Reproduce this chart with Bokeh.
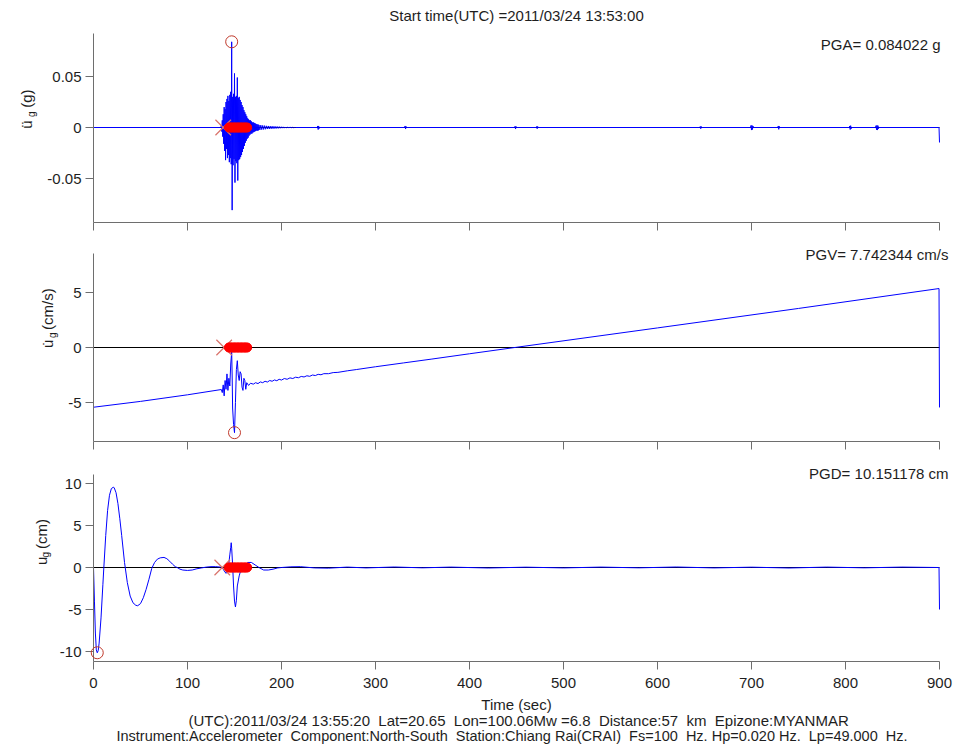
import numpy as np
from bokeh.plotting import figure
from bokeh.layouts import column, row
from bokeh.models import Label, FixedTicker
from bokeh.embed import file_html
from bokeh.resources import INLINE

FONT = "Liberation Sans"
NB = "\u00a0"

# ---------------- data ----------------
x_ticks = [0, 100, 200, 300, 400, 500, 600, 700, 800, 900]
x_tick_labels = ["0", "100", "200", "300", "400", "500", "600", "700", "800", "900"]

acc_yticks = [-0.05, 0, 0.05]
acc_ylabels = ["-0.05", "0", "0.05"]
vel_yticks = [-5, 0, 5]
vel_ylabels = ["-5", "0", "5"]
dis_yticks = [-10, -5, 0, 5, 10]
dis_ylabels = ["-10", "-5", "0", "5", "10"]

acc_ylim = (-0.0931, 0.0922)
vel_ylim = (-8.55, 8.55)
dis_ylim = (-11.19, 11.07)

title_text = "Start time(UTC) =2011/03/24 13:53:00"
xlabel_text = "Time (sec)"
footer_line1 = "(UTC):2011/03/24 13:55:20  Lat=20.65  Lon=100.06Mw =6.8  Distance:57  km  Epizone:MYANMAR"
footer_line2 = "Instrument:Accelerometer  Component:North-South  Station:Chiang Rai(CRAI)  Fs=100  Hz. Hp=0.020 Hz.  Lp=49.000  Hz."
pga_text = "PGA= 0.084022 g"
pgv_text = "PGV= 7.742344 cm/s"
pgd_text = "PGD= 10.151178 cm"

# acceleration (g)
acc_pre_t = [0.0, 135.5]
acc_pre_v = [0.0, 0.0]
acc_burst_start = 136.0
acc_burst_step = 0.5
acc_burst_v = [
    0.002, -0.004, 0.007, -0.009, 0.013, -0.016, 0.020, -0.023,
    0.018, -0.032, 0.025, -0.021, 0.028, -0.030, 0.031, -0.027,
    0.026, -0.034, 0.032, -0.030, 0.035, -0.036, 0.084, -0.081,
    0.030, -0.037, 0.033, -0.031, 0.053, -0.054, 0.030, -0.033,
    0.031, -0.035, 0.049, -0.052, 0.029, -0.032, 0.030, -0.031,
    0.027, -0.029, 0.025, -0.027, 0.022, -0.024, 0.020, -0.021,
    0.017, -0.018, 0.015, -0.015, 0.013, -0.013, 0.011, -0.011,
    0.009, -0.010, 0.008, -0.008, 0.007, -0.007, 0.007, -0.006,
    0.006, -0.006, 0.005, -0.005, 0.005, -0.0045, 0.0045, -0.004,
    0.004, -0.0035, 0.0035, -0.003, 0.003, -0.003, 0.003, -0.0028,
]
acc_tail_start = 176.0
acc_tail_step = 1.0
acc_tail_v = [
    0.0025, -0.0024, 0.0023, -0.0021, 0.002, -0.0019, 0.0018, -0.0017,
    0.0016, -0.0015, 0.0015, -0.0014, 0.0013, -0.0012, 0.0012, -0.0011,
    0.0011, -0.0010, 0.0010, -0.0009, 0.0009, -0.0008, 0.0008, -0.0007,
    0.0007, -0.0006, 0.0006, -0.0006, 0.0005, -0.0005, 0.0004, -0.0004,
    0.0004, -0.0003, 0.0003, -0.0003, 0.0002, -0.0002, 0.0, 0.0,
]
acc_blip_t = [238, 238.5, 239, 239.5, 240, 240.5,
              331, 331.5, 332, 332.5, 333,
              448, 448.5, 449, 449.5, 450,
              471, 471.5, 472, 472.5, 473,
              645, 645.5, 646, 646.5, 647,
              699, 699.5, 700, 700.5, 701, 701.5, 702,
              728, 728.5, 729, 729.5, 730,
              804, 804.5, 805, 805.5, 806, 806.5,
              832, 832.5, 833, 833.5, 834, 834.5, 835, 835.5]
acc_blip_v = [0, 0.0015, -0.002, 0.0015, -0.001, 0,
              0, 0.0015, -0.0015, 0.001, 0,
              0, 0.0012, -0.0015, 0.001, 0,
              0, 0.001, -0.0012, 0.001, 0,
              0, 0.001, -0.0012, 0.001, 0,
              0, 0.002, -0.0025, 0.002, -0.002, 0.0015, 0,
              0, 0.0015, -0.0018, 0.0012, 0,
              0, 0.0015, -0.002, 0.0018, -0.0012, 0,
              0, 0.0018, -0.0022, 0.002, -0.0025, 0.0018, -0.0012, 0]
acc_end_t = [899.5, 900.0]
acc_end_v = [0.0, -0.0147]

# velocity (cm/s)
vel_t = [0, 50, 100, 136, 137, 138, 139, 140, 141, 142, 143, 144, 145, 146, 147,
         147.5, 148, 149, 150, 151, 152, 153, 154, 155, 156, 157, 158, 159, 160,
         161, 162, 163, 165, 167, 170, 172.5, 175, 177.5, 180, 182.5, 185, 187.5,
         190, 192.5, 195, 197.5, 200, 203, 206, 209, 212, 215, 218, 221, 224, 227,
         230, 233, 236, 239, 242, 245, 250, 255, 260, 270, 280, 300, 330, 360, 400,
         450, 600, 750, 899.5, 900]
vel_v = [-5.43, -4.9, -4.3, -3.82, -4.1, -3.4, -4.4, -3.0, -3.8, -2.4, -3.9, -2.8, -3.5, -1.5, -0.4,
         -2.5, -5.5, -7.0, -7.742344, -5.0, -2.0, -1.2, -2.5, -3.0, -2.2, -2.4, -3.6, -3.9, -2.8,
         -3.0, -3.8, -3.2, -3.45, -3.25, -3.33, -3.2, -3.28, -3.13, -3.2, -3.07, -3.14, -3.0,
         -3.07, -2.95, -3.02, -2.89, -2.96, -2.82, -2.89, -2.76, -2.82, -2.7, -2.75, -2.63, -2.68, -2.57,
         -2.62, -2.5, -2.55, -2.44, -2.48, -2.38, -2.38, -2.28, -2.26, -2.12, -2.0, -1.75, -1.4, -1.05, -0.57,
         0.02, 1.78, 3.55, 5.36, -5.45]

# displacement (cm)
dis_t = [0, 1, 2, 3, 4, 5, 6, 8, 10, 11, 13, 15, 17, 19, 21, 22, 24, 26, 28, 30,
         33, 36, 39, 42, 45, 47, 50, 53, 56, 59, 62, 65, 68, 71, 75, 78, 81, 84, 87, 89,
         92, 95, 100, 105, 110, 115, 120, 125, 130, 135, 137, 139, 141, 143, 144, 145, 146,
         146.5, 147, 148, 149, 150, 151, 152, 153, 155, 157, 160, 164, 168, 172, 176, 181,
         186, 191, 196, 200, 210, 220, 235, 250, 270, 290, 320, 350, 380, 420, 460, 500,
         540, 580, 620, 660, 700, 740, 780, 820, 860, 899.5, 900]
dis_v = [0, -4.0, -7.8, -9.8, -10.151178, -9.9, -9.0, -6.0, -2.0, 0.0, 3.8, 6.8, 8.6, 9.4, 9.55, 9.5, 8.9, 7.6, 5.8, 3.8,
         0.6, -1.8, -3.4, -4.2, -4.5, -4.55, -4.3, -3.6, -2.6, -1.4, -0.1, 0.6, 1.0, 1.15, 1.2, 1.05, 0.75, 0.4, 0.1, 0.0,
         -0.2, -0.3, -0.35, -0.3, -0.15, -0.05, 0.05, 0.1, 0.1, 0.05, 0.0, -0.4, -0.7, -0.3, 0.5, 1.5, 2.4,
         2.95, 2.3, 0.3, -2.2, -4.0, -4.7, -3.9, -2.2, -1.0, -0.2, 0.2, 0.6, 0.6, 0.3, 0.0, -0.3,
         -0.3, -0.2, -0.05, 0.0, 0.08, 0.1, -0.05, -0.08, 0.05, -0.05, 0.06, -0.04, 0.05, -0.06, 0.04, -0.05,
         0.05, -0.04, 0.06, -0.05, 0.04, -0.06, 0.05, -0.04, 0.05, 0.0, -5.0]

# picks and peaks
acc_pick_t = [138]
vel_pick_t = [139]
dis_pick_t = [137]
pick_dots_t = [144, 145.5, 147, 148.5, 150, 151.5, 153, 154.5, 156, 157.5, 159, 160.5, 162, 163.5]
acc_peak = ([147.0], [0.084022])
vel_peak = ([150.0], [-7.742344])
dis_peak = ([4.0], [-10.151178])

# ---------------- assemble acceleration series ----------------
burst_t = list(acc_burst_start + acc_burst_step * np.arange(len(acc_burst_v)))
tail_t = list(acc_tail_start + acc_tail_step * np.arange(len(acc_tail_v)))
acc_t = acc_pre_t + burst_t + tail_t + acc_blip_t + acc_end_t
acc_v = acc_pre_v + acc_burst_v + acc_tail_v + acc_blip_v + acc_end_v

# ---------------- layout geometry (page pixels) ----------------
FL = 93                     # x = 0 at page px 93
PX_PER_S = 0.94             # 900 s -> page px 939
XR = (0.0, (960 - FL) / PX_PER_S)

AXIS_COLOR = "#6e6e6e"
TEXT_COLOR = "#1e1e1e"
A = np.pi / 2


def px_x(px):
    return (px - FL) / PX_PER_S


def keep_spaces(s):
    return s.replace("  ", " " + NB)


def text_fig(w, h):
    p = figure(width=w, height=h, x_range=(0, w), y_range=(h, 0),
               output_backend="svg", toolbar_location=None, tools="",
               min_border=0, x_axis_location=None, y_axis_location=None)
    p.outline_line_color = None
    p.grid.visible = False
    p.background_fill_color = "white"
    p.border_fill_color = "white"
    return p


def add_text(p, x, y, text, align="left", baseline="middle", size="15px", angle=0.0):
    p.add_layout(Label(x=x, y=y, text=text, text_font=FONT, text_font_size=size,
                       text_color=TEXT_COLOR, text_align=align, text_baseline=baseline,
                       angle=angle))


def make_fig(width, page_top, frame_bot, bottom_border, zero_px, px_per_unit,
             ylim, yticks, ylabels, show_x):
    height = frame_bot - page_top + bottom_border
    yr = ((zero_px - frame_bot) / px_per_unit, (zero_px - page_top) / px_per_unit)
    p = figure(width=width, height=height, x_range=XR, y_range=yr,
               output_backend="svg", toolbar_location=None, tools="",
               min_border_left=FL - (960 - width), min_border_right=0,
               min_border_top=0, min_border_bottom=bottom_border)
    p.outline_line_color = None
    p.grid.visible = False
    p.background_fill_color = "white"
    p.border_fill_color = "white"
    for ax in (p.xaxis[0], p.yaxis[0]):
        ax.axis_line_color = AXIS_COLOR
        ax.major_tick_line_color = AXIS_COLOR
        ax.minor_tick_line_color = None
        ax.major_tick_out = 8
        ax.major_tick_in = 0
        ax.major_label_text_font = FONT
        ax.major_label_text_font_size = "15px"
        ax.major_label_text_color = TEXT_COLOR
    p.xaxis.ticker = FixedTicker(ticks=x_ticks)
    p.xaxis.major_label_overrides = {t: l for t, l in zip(x_ticks, x_tick_labels)}
    p.xaxis.bounds = (x_ticks[0], x_ticks[-1])
    p.yaxis.ticker = FixedTicker(ticks=yticks)
    p.yaxis.major_label_overrides = {t: l for t, l in zip(yticks, ylabels)}
    p.yaxis.bounds = ylim
    p.yaxis.major_label_standoff = 4
    if show_x:
        p.xaxis.major_label_standoff = 8
    else:
        p.xaxis.major_label_text_color = None
        p.xaxis.major_label_text_font_size = "8px"
        p.xaxis.major_label_standoff = 0
    # zero reference line across the time axis
    p.line([x_ticks[0], x_ticks[-1]], [0, 0], line_color="black", line_width=1)
    return p


def add_marks(p, t, v, pick_t, peak):
    p.line(t, v, line_color="#0000ff", line_width=1)
    r1 = p.scatter(pick_t, [0] * len(pick_t), marker="x", size=22,
                   line_color="#d9736b", line_width=1.2)
    r2 = p.scatter(pick_dots_t, [0] * len(pick_dots_t), marker="circle", size=9,
                   fill_color="#ff0000", line_color="#ff0000")
    r3 = p.scatter(peak[0], peak[1], marker="circle", size=12, fill_color=None,
                   line_color="#c0392b", line_width=1)
    for r in (r1, r2, r3):
        r.level = "overlay"


# ---- row 1: acceleration (page y 0..244) ----
W1 = 40
f1 = make_fig(960 - W1, 0, 222, 22, 127, 1020.0, acc_ylim, acc_yticks, acc_ylabels, False)
add_marks(f1, acc_t, acc_v, acc_pick_t, acc_peak)
add_text(f1, px_x(516), (127 - 15) / 1020.0, title_text, align="center")
add_text(f1, px_x(940), (127 - 44) / 1020.0, pga_text, align="right")
lab1 = text_fig(W1, f1.height)
add_text(lab1, 25.5, 141, "\u00fc", baseline="alphabetic", angle=A)
add_text(lab1, 31, 128, "g", baseline="alphabetic", size="10px", angle=A)
add_text(lab1, 25.5, 118, "(g)", baseline="alphabetic", angle=A)

# ---- row 2: velocity (page y 244..463) ----
W2 = 62
top2 = 244
f2 = make_fig(960 - W2, top2, 441, 22, 347, 11.0, vel_ylim, vel_yticks, vel_ylabels, False)
add_marks(f2, vel_t, vel_v, vel_pick_t, vel_peak)
add_text(f2, px_x(948), (347 - 254) / 11.0, pgv_text, align="right")
lab2 = text_fig(W2, f2.height)
add_text(lab2, 47, 359 - top2, "u\u0307", baseline="alphabetic", angle=A)
add_text(lab2, 52, 348 - top2, "g", baseline="alphabetic", size="10px", angle=A)
add_text(lab2, 47, 339 - top2, "(cm/s)", baseline="alphabetic", angle=A)

# ---- row 3: displacement (page y 463..697) ----
W3 = 52
top3 = 463
f3 = make_fig(960 - W3, top3, 661, 36, 567, 8.4, dis_ylim, dis_yticks, dis_ylabels, True)
add_marks(f3, dis_t, dis_v, dis_pick_t, dis_peak)
add_text(f3, px_x(948), (567 - 473) / 8.4, pgd_text, align="right")
lab3 = text_fig(W3, f3.height)
add_text(lab3, 41, 583 - top3, "u", baseline="alphabetic", angle=A)
add_text(lab3, 45, 574 - top3, "g", baseline="alphabetic", size="10px", angle=A)
add_text(lab3, 41, 564 - top3, "(cm)", baseline="alphabetic", angle=A)

# ---- footer (page y 697..751) ----
top4 = 697
foot = text_fig(960, 751 - top4)
add_text(foot, 516, 704 - top4, xlabel_text, align="center")
add_text(foot, 188, 720 - top4, keep_spaces(footer_line1), align="left")
add_text(foot, 116, 735 - top4, keep_spaces(footer_line2), align="left", size="14.5px")

layout = column(row(lab1, f1, spacing=0), row(lab2, f2, spacing=0),
                row(lab3, f3, spacing=0), foot, spacing=0)
open("out.html", "w").write(file_html(layout, INLINE))
